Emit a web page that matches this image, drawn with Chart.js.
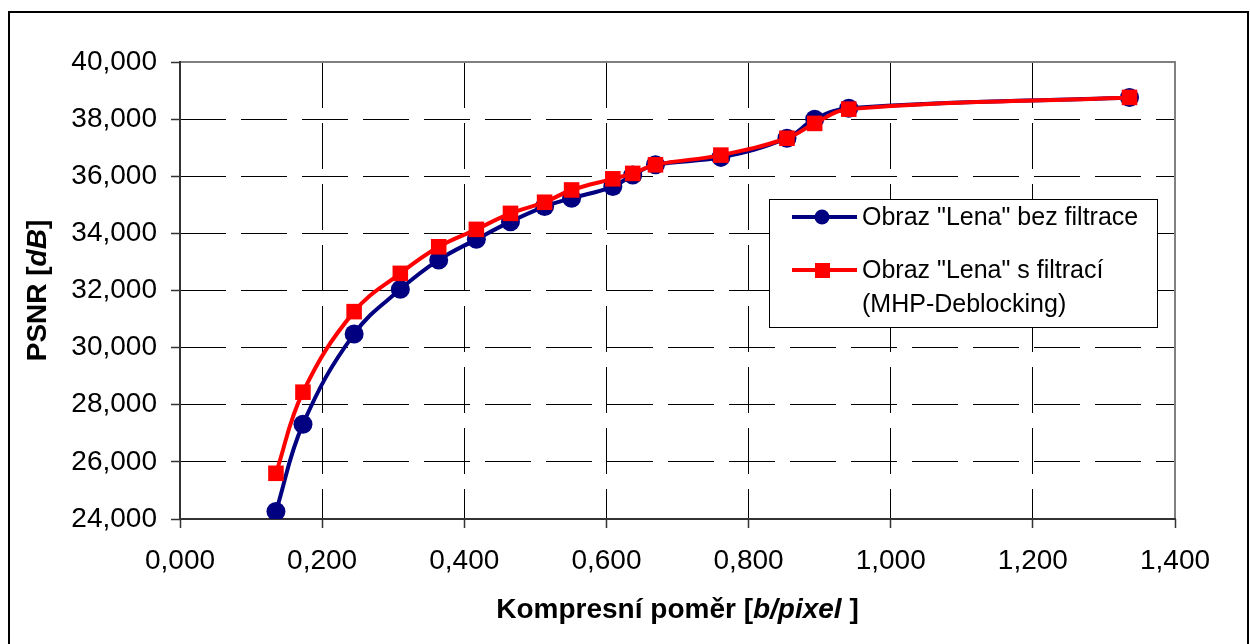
<!DOCTYPE html>
<html>
<head>
<meta charset="utf-8">
<script src="https://cdn.jsdelivr.net/npm/chart.js@4"></script>
<style>
  html, body { margin: 0; padding: 0; background: #fff; }
  canvas { display: block; }
</style>
</head>
<body>
<canvas id="psnrChart" width="1250" height="644"></canvas>
<script>
// komprese [b/pixel]
const bitrates = [0.135, 0.173, 0.245, 0.310, 0.364, 0.417, 0.465, 0.513, 0.551, 0.609, 0.637, 0.669, 0.761, 0.854, 0.893, 0.941, 1.336];
// PSNR [dB]
const psnrPlain = [24.26, 27.32, 30.48, 32.04, 33.07, 33.79, 34.41, 34.94, 35.23, 35.64, 36.04, 36.40, 36.66, 37.33, 38.00, 38.38, 38.76];
const psnrFiltered = [25.60, 28.44, 31.26, 32.60, 33.53, 34.14, 34.70, 35.09, 35.52, 35.91, 36.10, 36.40, 36.74, 37.33, 37.85, 38.35, 38.76];

const seriesNames = ['Obraz "Lena" bez filtrace', 'Obraz "Lena" s filtrací', '(MHP-Deblocking)'];
const xTitle = ["Kompresní poměr [", "b/pixel", " ]"];
const yTitle = ["PSNR [", "dB", "]"];

const FONT = "'Liberation Sans', Arial, sans-serif";
const navy = "#000080";
const red = "#ff0000";

function fmt(v) {
  return Number(v).toFixed(3).replace(".", ",");
}

function toPoints(ys) {
  return bitrates.map((x, i) => ({ x: x, y: ys[i] }));
}

// text with mixed bold / bold italic parts, centered on cx
function drawRuns(ctx, runs, cx, y) {
  const fonts = runs.map((r, i) => (i === 1 ? "italic bold 28px " : "bold 28px ") + FONT);
  let total = 0;
  runs.forEach((r, i) => { ctx.font = fonts[i]; total += ctx.measureText(r).width; });
  let x = cx - total / 2;
  ctx.textAlign = "left";
  ctx.textBaseline = "alphabetic";
  runs.forEach((r, i) => {
    ctx.font = fonts[i];
    ctx.fillText(r, x, y);
    x += ctx.measureText(r).width;
  });
}

const decor = {
  id: "decor",
  beforeDraw(chart) {
    const ctx = chart.ctx;
    ctx.save();
    ctx.fillStyle = "#fff";
    ctx.fillRect(0, 0, chart.width, chart.height);
    ctx.strokeStyle = "#000";
    ctx.lineWidth = 2;
    ctx.strokeRect(9, 12, 1239, 640);
    ctx.restore();
  },
  beforeDatasetsDraw(chart) {
    const a = chart.chartArea;
    const ctx = chart.ctx;
    ctx.save();
    ctx.lineWidth = 2;
    ctx.strokeStyle = "#808080";
    ctx.beginPath();
    ctx.moveTo(a.left, a.top);
    ctx.lineTo(a.right, a.top);
    ctx.lineTo(a.right, a.bottom);
    ctx.stroke();
    ctx.strokeStyle = "#333";
    ctx.beginPath();
    ctx.moveTo(a.left, a.top - 1);
    ctx.lineTo(a.left, a.bottom);
    ctx.lineTo(a.right + 1, a.bottom);
    ctx.stroke();
    ctx.restore();
  },
  afterDraw(chart) {
    const a = chart.chartArea;
    const ctx = chart.ctx;
    ctx.save();
    ctx.fillStyle = "#000";

    // axis titles
    drawRuns(ctx, xTitle, (a.left + a.right) / 2, 618);
    ctx.save();
    ctx.translate(46, (a.top + a.bottom) / 2);
    ctx.rotate(-Math.PI / 2);
    drawRuns(ctx, yTitle, 0, 0);
    ctx.restore();

    // legend
    ctx.fillStyle = "#fff";
    ctx.fillRect(769, 199, 388, 128);
    ctx.strokeStyle = "#000";
    ctx.lineWidth = 1;
    ctx.strokeRect(769.5, 199.5, 388, 128);

    ctx.lineWidth = 4;
    ctx.strokeStyle = navy;
    ctx.beginPath();
    ctx.moveTo(792, 217);
    ctx.lineTo(857, 217);
    ctx.stroke();
    ctx.fillStyle = navy;
    ctx.beginPath();
    ctx.arc(822, 217, 7.5, 0, Math.PI * 2);
    ctx.fill();

    ctx.strokeStyle = red;
    ctx.beginPath();
    ctx.moveTo(792, 270);
    ctx.lineTo(857, 270);
    ctx.stroke();
    ctx.fillStyle = red;
    ctx.fillRect(815, 263, 15, 15);

    ctx.fillStyle = "#000";
    ctx.font = "25px " + FONT;
    ctx.textAlign = "left";
    ctx.textBaseline = "alphabetic";
    ctx.fillText(seriesNames[0], 862, 225);
    ctx.fillText(seriesNames[1], 862, 278);
    ctx.fillText(seriesNames[2], 862, 312);
    ctx.restore();
  }
};

const gridBase = {
  lineWidth: 1,
  tickLength: 9,
  tickColor: "#333",
  tickWidth: 1.5,
  tickBorderDash: [0, 0]
};

const chart = new Chart(document.getElementById("psnrChart").getContext("2d"), {
  type: "scatter",
  data: {
    datasets: [{
      label: seriesNames[0],
      data: toPoints(psnrPlain),
      showLine: true,
      tension: 0.4,
      borderColor: navy,
      backgroundColor: navy,
      borderWidth: 4,
      pointStyle: "circle",
      pointRadius: 9.5,
      pointBorderWidth: 0,
      order: 1
    }, {
      label: seriesNames[1],
      data: toPoints(psnrFiltered),
      showLine: true,
      tension: 0.4,
      borderColor: red,
      backgroundColor: red,
      borderWidth: 4,
      pointStyle: "rect",
      pointRadius: 11,
      pointBorderWidth: 0,
      order: 0
    }]
  },
  options: {
    responsive: false,
    animation: false,
    layout: { padding: { left: 0, top: 62, right: 75, bottom: 0 } },
    plugins: {
      legend: { display: false },
      tooltip: { enabled: false }
    },
    scales: {
      x: {
        type: "linear",
        min: 0,
        max: 1.4,
        afterFit: s => { s.height = 125; },
        border: { display: false, dash: [46, 15] },
        grid: Object.assign({}, gridBase, {
          color: c => (c.tick && (c.tick.value < 0.01 || c.tick.value > 1.39)) ? "rgba(0,0,0,0)" : "#000"
        }),
        ticks: {
          stepSize: 0.2,
          maxRotation: 0,
          padding: 16,
          color: "#000",
          font: { family: FONT, size: 28 },
          callback: v => fmt(v)
        }
      },
      y: {
        type: "linear",
        min: 24,
        max: 40,
        afterFit: s => { s.width = 180; },
        border: { display: false, dash: [46, 15] },
        grid: Object.assign({}, gridBase, {
          color: c => (c.tick && (c.tick.value < 24.01 || c.tick.value > 39.99)) ? "rgba(0,0,0,0)" : "#000"
        }),
        ticks: {
          stepSize: 2,
          padding: 14,
          color: "#000",
          font: { family: FONT, size: 28 },
          callback: v => fmt(v)
        }
      }
    }
  },
  plugins: [decor]
});
</script>
</body>
</html>
